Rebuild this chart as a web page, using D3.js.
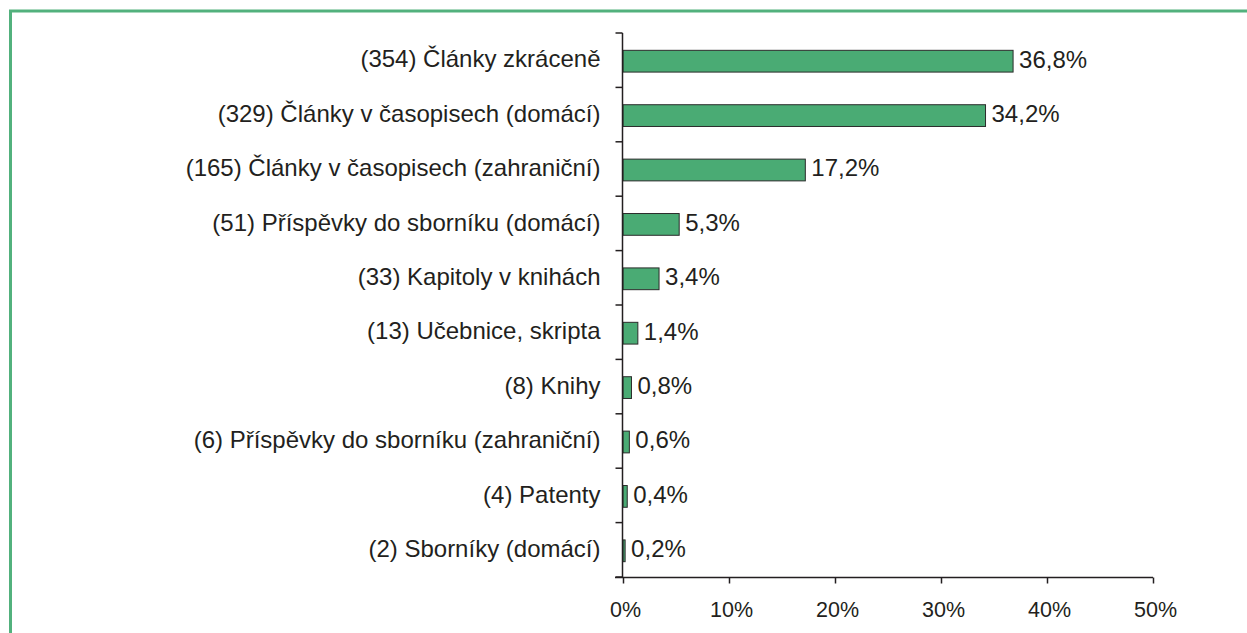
<!DOCTYPE html>
<html lang="cs">
<head>
	<meta charset="UTF-8">
	<title>Publikace podle typu</title>
	<script src="https://d3js.org/d3.v7.min.js"></script>
	<style>
		body { margin: 0; background: #fff; }
		text { font-family: "Liberation Sans", Arial, sans-serif; fill: #231f20; }
	</style>
</head>
<body>

	<svg width="1247" height="633"></svg>

	<script>

		// data
		var categories = [
			"(354) Články zkráceně",
			"(329) Články v časopisech (domácí)",
			"(165) Články v časopisech (zahraniční)",
			"(51) Příspěvky do sborníku (domácí)",
			"(33) Kapitoly v knihách",
			"(13) Učebnice, skripta",
			"(8) Knihy",
			"(6) Příspěvky do sborníku (zahraniční)",
			"(4) Patenty",
			"(2) Sborníky (domácí)"
		];
		var values = [36.8, 34.2, 17.2, 5.3, 3.4, 1.4, 0.8, 0.6, 0.4, 0.2];
		var xTicks = [0, 10, 20, 30, 40, 50];

		var fontSize = "24px";
		var svg = d3.select("svg");

		// green frame (only top and left show)
		svg.append("rect")
			.attr("x", 10.5)
			.attr("y", 11)
			.attr("width", 1400)
			.attr("height", 800)
			.attr("fill", "none")
			.attr("stroke", "#52b17d")
			.attr("stroke-width", 3);

		var x = d3.scaleLinear()
			.domain([0, 50])
			.range([623, 1153]);

		var y = d3.scaleBand()
			.domain(categories)
			.range([33, 577])
			.paddingInner(0.6)
			.paddingOuter(0.3);

		var bars = categories.map(function(c, i) {
			return { name: c, value: values[i] };
		});

		// bars
		svg.selectAll(".bar")
			.data(bars)
			.enter()
			.append("rect")
			.attr("class", "bar")
			.attr("x", x(0))
			.attr("y", function(d) { return y(d.name) + 1; })
			.attr("width", function(d) { return x(d.value) - x(0); })
			.attr("height", y.bandwidth())
			.attr("fill", "#4aab74")
			.attr("stroke", "#2b2b2b")
			.attr("stroke-width", 1);

		// value labels
		svg.selectAll(".val")
			.data(bars)
			.enter()
			.append("text")
			.attr("class", "val")
			.attr("x", function(d) { return x(d.value) + 6; })
			.attr("y", function(d) { return y(d.name) + y.bandwidth() / 2 - 1; })
			.attr("dy", "0.35em")
			.style("font-size", fontSize)
			.text(function(d) { return d3.format(".1f")(d.value).replace(".", ",") + "%"; });

		// x axis
		var xAxis = svg.append("g")
			.attr("transform", "translate(0,577.5)")
			.call(d3.axisBottom(x).tickValues(xTicks).tickSize(6).tickSizeOuter(0)
				.tickFormat(function(d) { return d + "%"; }));
		xAxis.select(".domain").attr("stroke", "#231f20").attr("stroke-width", 1.5)
			.attr("d", "M615,0H" + x(50));
		xAxis.selectAll(".tick line").attr("stroke", "#231f20").attr("stroke-width", 1.5);
		xAxis.selectAll(".tick text")
			.attr("y", 24)
			.attr("x", 2)
			.style("font-size", "21.5px")
			.style("font-family", "'Liberation Sans', Arial, sans-serif")
			.attr("fill", "#231f20");

		// y axis labels
		var yAxis = svg.append("g")
			.attr("transform", "translate(622.5,0)")
			.call(d3.axisLeft(y).tickSize(0).tickPadding(22));
		yAxis.select(".domain").attr("stroke", "#231f20").attr("stroke-width", 1.5)
			.attr("d", "M0,33V577");
		yAxis.selectAll(".tick text")
			.attr("y", -0.5)
			.style("font-size", fontSize)
			.style("font-family", "'Liberation Sans', Arial, sans-serif")
			.attr("fill", "#231f20");

		// boundary ticks between categories
		var step = y.step();
		var bounds = categories.map(function(c) { return y(c) + y.bandwidth() / 2 - step / 2; });
		bounds.push(577);
		yAxis.selectAll(".bound")
			.data(bounds)
			.enter()
			.append("line")
			.attr("class", "bound")
			.attr("x1", -7)
			.attr("x2", 0)
			.attr("y1", function(d) { return d; })
			.attr("y2", function(d) { return d; })
			.attr("stroke", "#231f20")
			.attr("stroke-width", 1.5);

	</script>

</body>
</html>
